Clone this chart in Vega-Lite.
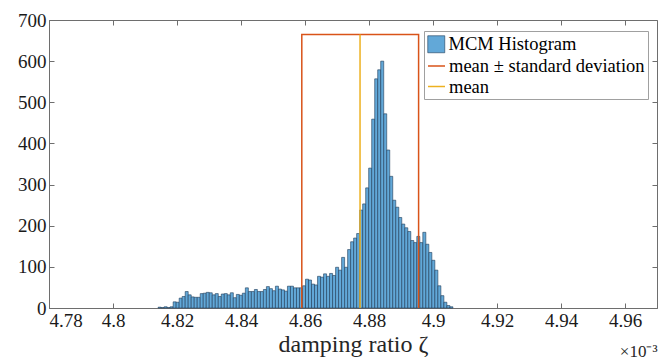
{
  "$schema": "https://vega.github.io/schema/vega-lite/v6.json",
  "width": 608,
  "height": 288,
  "autosize": {"type": "none"},
  "padding": {"left": 49, "top": 20, "right": 1, "bottom": 52},
  "background": "white",
  "config": {
    "font": "Liberation Serif, serif",
    "view": {"stroke": "#6e6e6e", "strokeWidth": 1},
    "axis": {
      "labelFont": "Liberation Serif, serif",
      "titleFont": "Liberation Serif, serif",
      "labelColor": "#1a1a1a",
      "titleColor": "#262626",
      "domainColor": "#6e6e6e",
      "tickColor": "#6e6e6e",
      "grid": false,
      "labelFontSize": 19,
      "titleFontSize": 24,
      "titleFontWeight": "normal"
    },
    "legend": {"labelFont": "Liberation Serif, serif", "titleFont": "Liberation Serif, serif"}
  },
  "title": {"text": "×10⁻³", "orient": "bottom", "anchor": "end", "fontSize": 17, "fontWeight": "normal", "font": "Liberation Serif, serif", "color": "#262626", "offset": -12},
  "resolve": {"axis": {"x": "independent", "y": "independent"}},
  "layer": [
    {
      "data": {"values": [
        {"lo": 4.81410, "hi": 4.81504, "n": 2},
        {"lo": 4.81504, "hi": 4.81598, "n": 1},
        {"lo": 4.81598, "hi": 4.81692, "n": 3},
        {"lo": 4.81692, "hi": 4.81786, "n": 1},
        {"lo": 4.81786, "hi": 4.81880, "n": 3},
        {"lo": 4.81880, "hi": 4.81974, "n": 15},
        {"lo": 4.81974, "hi": 4.82068, "n": 14},
        {"lo": 4.82068, "hi": 4.82162, "n": 24},
        {"lo": 4.82162, "hi": 4.82256, "n": 28},
        {"lo": 4.82256, "hi": 4.82350, "n": 40},
        {"lo": 4.82350, "hi": 4.82444, "n": 32},
        {"lo": 4.82444, "hi": 4.82538, "n": 27},
        {"lo": 4.82538, "hi": 4.82632, "n": 26},
        {"lo": 4.82632, "hi": 4.82726, "n": 26},
        {"lo": 4.82726, "hi": 4.82820, "n": 35},
        {"lo": 4.82820, "hi": 4.82914, "n": 36},
        {"lo": 4.82914, "hi": 4.83008, "n": 38},
        {"lo": 4.83008, "hi": 4.83102, "n": 37},
        {"lo": 4.83102, "hi": 4.83196, "n": 32},
        {"lo": 4.83196, "hi": 4.83290, "n": 35},
        {"lo": 4.83290, "hi": 4.83384, "n": 28},
        {"lo": 4.83384, "hi": 4.83478, "n": 34},
        {"lo": 4.83478, "hi": 4.83572, "n": 35},
        {"lo": 4.83572, "hi": 4.83666, "n": 32},
        {"lo": 4.83666, "hi": 4.83760, "n": 37},
        {"lo": 4.83760, "hi": 4.83854, "n": 25},
        {"lo": 4.83854, "hi": 4.83948, "n": 33},
        {"lo": 4.83948, "hi": 4.84042, "n": 31},
        {"lo": 4.84042, "hi": 4.84136, "n": 36},
        {"lo": 4.84136, "hi": 4.84230, "n": 49},
        {"lo": 4.84230, "hi": 4.84324, "n": 40},
        {"lo": 4.84324, "hi": 4.84418, "n": 40},
        {"lo": 4.84418, "hi": 4.84512, "n": 45},
        {"lo": 4.84512, "hi": 4.84606, "n": 40},
        {"lo": 4.84606, "hi": 4.84700, "n": 40},
        {"lo": 4.84700, "hi": 4.84794, "n": 45},
        {"lo": 4.84794, "hi": 4.84888, "n": 52},
        {"lo": 4.84888, "hi": 4.84982, "n": 47},
        {"lo": 4.84982, "hi": 4.85076, "n": 42},
        {"lo": 4.85076, "hi": 4.85170, "n": 53},
        {"lo": 4.85170, "hi": 4.85264, "n": 46},
        {"lo": 4.85264, "hi": 4.85358, "n": 44},
        {"lo": 4.85358, "hi": 4.85452, "n": 41},
        {"lo": 4.85452, "hi": 4.85546, "n": 53},
        {"lo": 4.85546, "hi": 4.85640, "n": 53},
        {"lo": 4.85640, "hi": 4.85734, "n": 49},
        {"lo": 4.85734, "hi": 4.85828, "n": 49},
        {"lo": 4.85828, "hi": 4.85922, "n": 49},
        {"lo": 4.85922, "hi": 4.86016, "n": 54},
        {"lo": 4.86016, "hi": 4.86110, "n": 70},
        {"lo": 4.86110, "hi": 4.86204, "n": 68},
        {"lo": 4.86204, "hi": 4.86298, "n": 58},
        {"lo": 4.86298, "hi": 4.86392, "n": 56},
        {"lo": 4.86392, "hi": 4.86486, "n": 77},
        {"lo": 4.86486, "hi": 4.86580, "n": 75},
        {"lo": 4.86580, "hi": 4.86674, "n": 83},
        {"lo": 4.86674, "hi": 4.86768, "n": 77},
        {"lo": 4.86768, "hi": 4.86862, "n": 84},
        {"lo": 4.86862, "hi": 4.86956, "n": 79},
        {"lo": 4.86956, "hi": 4.87050, "n": 99},
        {"lo": 4.87050, "hi": 4.87144, "n": 92},
        {"lo": 4.87144, "hi": 4.87238, "n": 123},
        {"lo": 4.87238, "hi": 4.87332, "n": 99},
        {"lo": 4.87332, "hi": 4.87426, "n": 142},
        {"lo": 4.87426, "hi": 4.87520, "n": 161},
        {"lo": 4.87520, "hi": 4.87614, "n": 170},
        {"lo": 4.87614, "hi": 4.87708, "n": 181},
        {"lo": 4.87708, "hi": 4.87802, "n": 238},
        {"lo": 4.87802, "hi": 4.87896, "n": 253},
        {"lo": 4.87896, "hi": 4.87990, "n": 292},
        {"lo": 4.87990, "hi": 4.88084, "n": 340},
        {"lo": 4.88084, "hi": 4.88178, "n": 459},
        {"lo": 4.88178, "hi": 4.88272, "n": 557},
        {"lo": 4.88272, "hi": 4.88366, "n": 579},
        {"lo": 4.88366, "hi": 4.88460, "n": 600},
        {"lo": 4.88460, "hi": 4.88554, "n": 472},
        {"lo": 4.88554, "hi": 4.88648, "n": 384},
        {"lo": 4.88648, "hi": 4.88742, "n": 320},
        {"lo": 4.88742, "hi": 4.88836, "n": 262},
        {"lo": 4.88836, "hi": 4.88930, "n": 245},
        {"lo": 4.88930, "hi": 4.89024, "n": 220},
        {"lo": 4.89024, "hi": 4.89118, "n": 204},
        {"lo": 4.89118, "hi": 4.89212, "n": 195},
        {"lo": 4.89212, "hi": 4.89306, "n": 186},
        {"lo": 4.89306, "hi": 4.89400, "n": 164},
        {"lo": 4.89400, "hi": 4.89494, "n": 159},
        {"lo": 4.89494, "hi": 4.89588, "n": 174},
        {"lo": 4.89588, "hi": 4.89682, "n": 159},
        {"lo": 4.89682, "hi": 4.89776, "n": 184},
        {"lo": 4.89776, "hi": 4.89870, "n": 155},
        {"lo": 4.89870, "hi": 4.89964, "n": 135},
        {"lo": 4.89964, "hi": 4.90058, "n": 116},
        {"lo": 4.90058, "hi": 4.90152, "n": 92},
        {"lo": 4.90152, "hi": 4.90246, "n": 54},
        {"lo": 4.90246, "hi": 4.90340, "n": 30},
        {"lo": 4.90340, "hi": 4.90434, "n": 14},
        {"lo": 4.90434, "hi": 4.90528, "n": 6},
        {"lo": 4.90528, "hi": 4.90622, "n": 3}
      ]},
      "mark": {"type": "rect", "stroke": "#1f3a57", "strokeWidth": 0.6},
      "encoding": {
        "x": {
          "field": "lo", "type": "quantitative",
          "scale": {"domain": [4.78, 4.97], "nice": false, "zero": false},
          "axis": {
            "values": [4.78, 4.8, 4.82, 4.84, 4.86, 4.88, 4.9, 4.92, 4.94, 4.96],
            "format": "~g",
            "title": "damping ratio ζ",
            "labelFont": "Liberation Serif, serif",
            "titleFont": "Liberation Serif, serif",
            "labelFontSize": 19,
            "titleFontSize": 24,
            "tickSize": -5,
            "labelPadding": 8,
            "titlePadding": 2
          }
        },
        "x2": {"field": "hi"},
        "y": {
          "field": "n", "type": "quantitative",
          "scale": {"domain": [0, 700], "nice": false},
          "axis": {
            "values": [0, 100, 200, 300, 400, 500, 600, 700],
            "labelFont": "Liberation Serif, serif",
            "labelFontSize": 19,
            "tickSize": -5,
            "title": null,
            "labelPadding": 8
          }
        },
        "y2": {"datum": 0},
        "fill": {
          "datum": "MCM Histogram", "type": "nominal",
          "scale": {"domain": ["MCM Histogram"], "range": ["#62a8d8"]},
          "legend": {
            "title": null,
            "orient": "none",
            "legendX": 375,
            "legendY": 12,
            "padding": 3,
            "labelFontSize": 18.5,
            "labelColor": "#000000",
            "labelLimit": 400,
            "symbolType": "square",
            "symbolSize": 289,
            "symbolStrokeColor": "#1f3a57",
            "symbolStrokeWidth": 0.6,
            "labelOffset": 3
          }
        }
      }
    },
    {
      "data": {"values": [
        {"x": 4.8590, "y": 0, "o": 0},
        {"x": 4.8590, "y": 665, "o": 1},
        {"x": 4.8955, "y": 665, "o": 2},
        {"x": 4.8955, "y": 0, "o": 3}
      ]},
      "mark": {"type": "line", "strokeWidth": 1.5},
      "encoding": {
        "x": {"field": "x", "type": "quantitative", "axis": null},
        "y": {"field": "y", "type": "quantitative", "axis": null},
        "order": {"field": "o"},
        "stroke": {
          "datum": "mean ± standard deviation", "type": "nominal",
          "scale": {"domain": ["mean ± standard deviation", "mean"], "range": ["#D95319", "#EDB120"]},
          "legend": {
            "title": " ",
            "titleFontSize": 19,
            "titlePadding": 3.5,
            "orient": "none",
            "legendX": 375,
            "legendY": 11,
            "padding": 3,
            "strokeColor": "#a0a0a0",
            "labelFontSize": 18.5,
            "labelColor": "#000000",
            "labelLimit": 400,
            "symbolType": "stroke",
            "symbolSize": 289,
            "symbolStrokeWidth": 1.5,
            "rowPadding": 1.5,
            "labelOffset": 3
          }
        }
      }
    },
    {
      "data": {"values": [
        {"x": 4.8772, "y": 0, "o": 0},
        {"x": 4.8772, "y": 665, "o": 1}
      ]},
      "mark": {"type": "line", "strokeWidth": 1.5},
      "encoding": {
        "x": {"field": "x", "type": "quantitative", "axis": {"orient": "top", "values": [4.78, 4.8, 4.82, 4.84, 4.86, 4.88, 4.9, 4.92, 4.94, 4.96], "labels": false, "domain": false, "tickSize": -5, "title": null}},
        "y": {"field": "y", "type": "quantitative", "axis": {"orient": "right", "values": [0, 100, 200, 300, 400, 500, 600, 700], "labels": false, "domain": false, "tickSize": -5, "title": null}},
        "order": {"field": "o"},
        "stroke": {"datum": "mean", "type": "nominal"}
      }
    }
  ]
}
